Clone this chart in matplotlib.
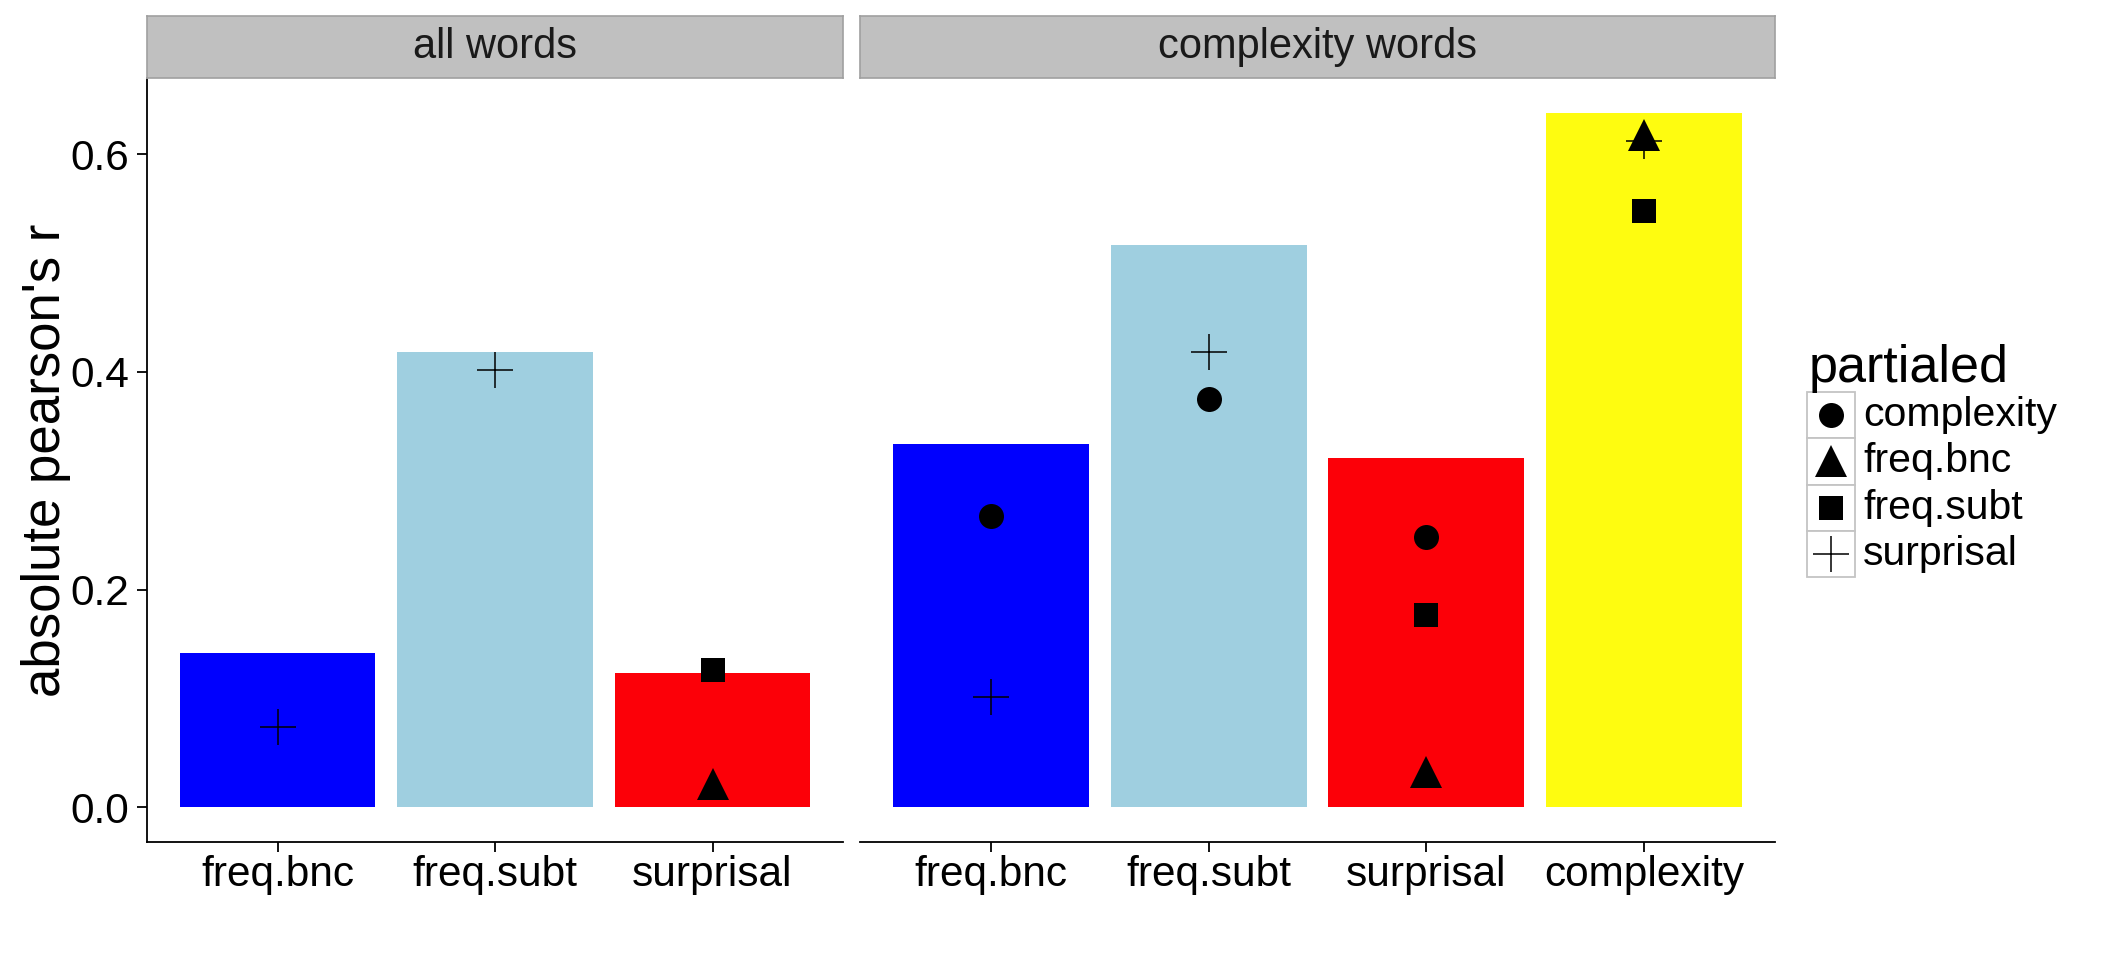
import matplotlib
matplotlib.use('Agg')
import matplotlib.pyplot as plt
from matplotlib.patches import Rectangle

plt.rcParams['font.family'] = ['Liberation Sans', 'DejaVu Sans']

# bars: absolute pearson's r per predictor
all_cats = ['freq.bnc', 'freq.subt', 'surprisal']
all_r = [0.142, 0.418, 0.123]
cx_cats = ['freq.bnc', 'freq.subt', 'surprisal', 'complexity']
cx_r = [0.334, 0.517, 0.321, 0.638]

# partial correlations (points)
all_part_cat = ['freq.bnc', 'freq.subt', 'surprisal', 'surprisal']
all_part_by = ['surprisal', 'surprisal', 'freq.subt', 'freq.bnc']
all_part_r = [0.074, 0.402, 0.126, 0.021]
cx_part_cat = ['freq.bnc', 'freq.bnc', 'freq.subt', 'freq.subt', 'surprisal',
               'surprisal', 'surprisal', 'complexity', 'complexity', 'complexity']
cx_part_by = ['complexity', 'surprisal', 'surprisal', 'complexity', 'complexity',
              'freq.subt', 'freq.bnc', 'freq.bnc', 'surprisal', 'freq.subt']
cx_part_r = [0.268, 0.101, 0.418, 0.375, 0.248, 0.177, 0.032, 0.618, 0.612, 0.548]

partialed = ['complexity', 'freq.bnc', 'freq.subt', 'surprisal']
panel_titles = ['all words', 'complexity words']

bar_colors = {'freq.bnc': '#0000FE', 'freq.subt': '#9FCFE0',
              'surprisal': '#FC0008', 'complexity': '#FEFC10'}
# marker and size (pt), same in plot and legend
shapes = {'complexity': ('o', 18.0),
          'freq.bnc': ('^', 23.5),
          'freq.subt': ('s', 17.8),
          'surprisal': ('+', 26.6)}

W, H = 2112, 960
fig = plt.figure(figsize=(W / 100, H / 100), dpi=100)


def px_box(x0, y0, x1, y1):
    return [x0 / W, 1 - y1 / H, (x1 - x0) / W, (y1 - y0) / H]


def draw_marker(ax, xs, ys, key):
    m, ms = shapes[key]
    if m == '+':
        ax.plot(xs, ys, ls='none', marker=m, ms=ms, mew=1.1, color='black', zorder=3)
    else:
        ax.plot(xs, ys, ls='none', marker=m, ms=ms, mew=0, color='black', zorder=3)


ax1 = fig.add_axes(px_box(147, 78, 843, 842))
ax2 = fig.add_axes(px_box(860, 78, 1775, 842))
strips = [fig.add_axes(px_box(147, 16, 843, 78)), fig.add_axes(px_box(860, 16, 1775, 78))]

panels = [(ax1, all_cats, all_r, all_part_cat, all_part_by, all_part_r),
          (ax2, cx_cats, cx_r, cx_part_cat, cx_part_by, cx_part_r)]

for ax, cats, vals, pcat, pby, pr in panels:
    ax.bar(cats, vals, width=0.9, color=[bar_colors[c] for c in cats], zorder=1)
    for p in partialed:
        xs = [c for c, b in zip(pcat, pby) if b == p]
        ys = [v for v, b in zip(pr, pby) if b == p]
        if xs:
            draw_marker(ax, xs, ys, p)
    ax.set_xlim(-0.6, len(cats) - 0.4)
    ax.set_ylim(-0.032, 0.670)
    for s in ['top', 'right']:
        ax.spines[s].set_visible(False)
    ax.spines['bottom'].set_linewidth(1.3)
    ax.spines['left'].set_linewidth(1.3)
    ax.tick_params(axis='x', length=7.2, width=1.3, pad=2.5, labelsize=30.5)
    ax.tick_params(axis='y', length=7.2, width=1.3, pad=5.5, labelsize=30.5)

ax1.set_yticks([0.0, 0.2, 0.4, 0.6])
ax1.set_yticklabels(['0.0', '0.2', '0.4', '0.6'])
ax2.spines['left'].set_visible(False)
ax2.set_yticks([])

for sax, title in zip(strips, panel_titles):
    sax.set_facecolor('#C0C0C0')
    sax.set_xticks([])
    sax.set_yticks([])
    for s in sax.spines.values():
        s.set_color('#A0A0A0')
        s.set_linewidth(1.2)
    sax.text(0.5, 0.5, title, ha='center', va='center', fontsize=30,
             color='#1A1A1A', transform=sax.transAxes)

fig.text(46 / W, 1 - 460 / H, "absolute pearson's r", rotation=90,
         ha='center', va='center', fontsize=38)

# legend drawn by hand so every key gets its own grey box
ov = fig.add_axes([0, 0, 1, 1])
ov.set_xlim(0, W)
ov.set_ylim(H, 0)
ov.axis('off')
ov.patch.set_alpha(0)
ov.text(1809, 382, 'partialed', fontsize=37.5, va='baseline', ha='left')
key_top = 392
key_h = 46.3
for i, p in enumerate(partialed):
    y0 = key_top + i * key_h
    ov.add_patch(Rectangle((1807, y0), 48, key_h, facecolor='white',
                           edgecolor='#C4C4C4', lw=1.3))
    cy = y0 + key_h / 2
    draw_marker(ov, [1831], [cy], p)
    ov.text(1863, cy + 11, p, fontsize=29.5, va='baseline', ha='left')

fig.savefig('out.png', dpi=100)
